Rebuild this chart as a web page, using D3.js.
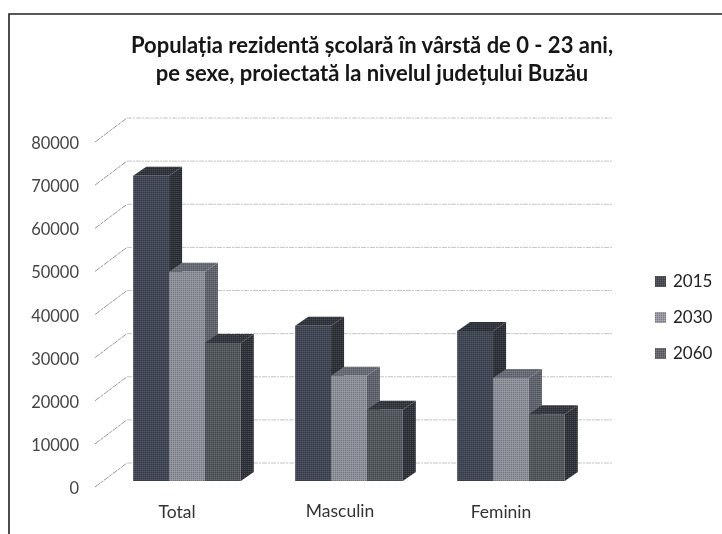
<!DOCTYPE html>
<html>
<head>
<meta charset="utf-8">
<script src="https://cdn.jsdelivr.net/npm/d3@7"></script>
<style>
  html, body { margin: 0; padding: 0; background: #fff; }
  svg { display: block; font-family: Lato, "Open Sans", "DejaVu Sans", sans-serif; }
</style>
</head>
<body>
<div id="chart"></div>
<script>
const categories = ["Total", "Masculin", "Feminin"];
const years = ["2015", "2030", "2060"];
const values2015 = [70800, 36000, 34800];
const values2030 = [48500, 24400, 23900];
const values2060 = [32000, 16500, 15500];
const yTicks = [0, 10000, 20000, 30000, 40000, 50000, 60000, 70000, 80000];
const titleLines = [
  "Populația rezidentă școlară în vârstă de 0 - 23 ani,",
  "pe sexe, proiectată la nivelul județului Buzău"
];

const seriesValues = [values2015, values2030, values2060];
const colors = {
  "2015": { front: "#3f4654", side: "#2d3138", top: "#31353d", key: "#4a4d52" },
  "2030": { front: "#8f929c", side: "#62666f", top: "#6a6e78", key: "#9a9aa4" },
  "2060": { front: "#52585c", side: "#2f343a", top: "#34383e", key: "#66686e" }
};

const width = 722, height = 534;
const depthX = 13, depthY = 9;   // bar depth
const wallX = 32, wallY = 24;    // side wall offset

const svg = d3.select("#chart").append("svg")
  .attr("width", width)
  .attr("height", height);

// scanned look: halftone on the fills, slight softening on everything
const defs = svg.append("defs");
const dots = defs.append("pattern")
  .attr("id", "halftone")
  .attr("width", 2).attr("height", 2)
  .attr("patternUnits", "userSpaceOnUse");
dots.append("rect").attr("width", 1).attr("height", 1).attr("fill", "#000").attr("fill-opacity", 0.22);
dots.append("rect").attr("x", 1).attr("y", 1).attr("width", 1).attr("height", 1).attr("fill", "#fff").attr("fill-opacity", 0.12);
defs.append("filter").attr("id", "soft")
  .append("feGaussianBlur").attr("stdDeviation", 0.35);

const root = svg.append("g").attr("filter", "url(#soft)");

// frame, open at the bottom
root.append("path")
  .attr("d", "M9,534V14H722")
  .attr("fill", "none")
  .attr("stroke", "#222")
  .attr("stroke-width", 1.6);

root.append("g").selectAll("text")
  .data(titleLines)
  .enter()
  .append("text")
  .attr("x", 372)
  .attr("y", (d, i) => 53 + i * 28)
  .attr("text-anchor", "middle")
  .attr("font-size", 22)
  .attr("font-weight", 700)
  .attr("fill", "#151515")
  .text(d => d);

const y = d3.scaleLinear().domain([0, 80000]).range([481, 136]);
const x = d3.scaleBand().domain(categories).range([106, 592]).paddingInner(0.336).paddingOuter(0.168);
const xSeries = d3.scaleBand().domain(years).range([0, x.bandwidth()]);

// back wall gridlines, shifted up from the front plane
const gridBackY = d => y(d) - 18;
root.append("g").selectAll("line")
  .data(yTicks)
  .enter()
  .append("line")
  .attr("x1", 127).attr("x2", 612)
  .attr("y1", gridBackY).attr("y2", gridBackY)
  .attr("stroke", "#c4c4c4")
  .attr("stroke-width", 1)
  .attr("stroke-dasharray", "5 1 2 1");

// side wall ticks
root.append("g").selectAll("line")
  .data(yTicks)
  .enter()
  .append("line")
  .attr("x1", 127 - wallX).attr("x2", 127)
  .attr("y1", d => gridBackY(d) + wallY).attr("y2", gridBackY)
  .attr("stroke", "#999")
  .attr("stroke-width", 1)
  .attr("stroke-dasharray", "6 1 3 1");

root.append("g").selectAll("text")
  .data(yTicks)
  .enter()
  .append("text")
  .attr("x", 79)
  .attr("y", d => gridBackY(d) + wallY + 7)
  .attr("text-anchor", "end")
  .attr("font-size", 16.5)
  .attr("fill", "#444")
  .text(d => d);

// bars, drawn back to front by series then left to right
const bars = [];
categories.forEach((c, i) => {
  years.forEach((yr, j) => {
    bars.push({ category: c, year: yr, value: seriesValues[j][i] });
  });
});

const barG = root.append("g").selectAll("g")
  .data(bars)
  .enter()
  .append("g")
  .attr("transform", d => `translate(${x(d.category) + xSeries(d.year)},0)`);

const w = xSeries.bandwidth();

const drawFaces = sel => {
  sel.append("path")
    .attr("class", "side")
    .attr("d", d => `M${w},${y(d.value)}l${depthX},${-depthY}V${y(0) - depthY}l${-depthX},${depthY}Z`);
  sel.append("path")
    .attr("class", "top")
    .attr("d", d => `M0,${y(d.value)}l${depthX},${-depthY}h${w}l${-depthX},${depthY}Z`);
  sel.append("rect")
    .attr("class", "front")
    .attr("width", w)
    .attr("y", d => y(d.value))
    .attr("height", d => y(0) - y(d.value));
};

barG.call(drawFaces);
barG.select(".side").attr("fill", d => colors[d.year].side);
barG.select(".top").attr("fill", d => colors[d.year].top);
barG.select(".front").attr("fill", d => colors[d.year].front);

// same faces again with the halftone on top
const texG = barG.append("g").attr("fill", "url(#halftone)");
texG.call(drawFaces);

root.append("g").selectAll("text")
  .data(categories)
  .enter()
  .append("text")
  .attr("x", (d, i) => x(d) + x.bandwidth() / 2 + [-10, -9, -10][i])
  .attr("y", (d, i) => [518, 517, 518][i])
  .attr("text-anchor", "middle")
  .attr("font-size", 17.5)
  .attr("fill", "#333")
  .text(d => d);

// legend
const legend = root.append("g").selectAll("g")
  .data(years)
  .enter()
  .append("g")
  .attr("transform", (d, i) => `translate(655,${281 + i * 36})`);

legend.append("rect")
  .attr("y", -5).attr("width", 11).attr("height", 11)
  .attr("fill", d => colors[d].key);
legend.append("rect")
  .attr("y", -5).attr("width", 11).attr("height", 11)
  .attr("fill", "url(#halftone)");
legend.append("text")
  .attr("x", 18).attr("y", 6)
  .attr("font-size", 17)
  .attr("fill", "#222")
  .text(d => d);
</script>
</body>
</html>
